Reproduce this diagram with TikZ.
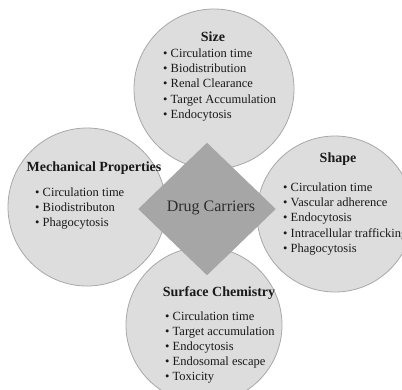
\documentclass[tikz,border=0pt]{standalone}
\usepackage{fontspec}
\setmainfont{Liberation Serif}
\usetikzlibrary{shapes.geometric}

\definecolor{bubblefill}{RGB}{221,221,221}
\definecolor{bubbleline}{RGB}{168,168,168}
\definecolor{corefill}{RGB}{166,166,166}
\definecolor{coretext}{RGB}{45,45,45}
\definecolor{listtext}{RGB}{25,25,25}

\tikzset{
  bubble/.style={circle, fill=bubblefill, draw=bubbleline, line width=0.8pt, inner sep=0pt},
  core/.style={diamond, fill=corefill, draw=corefill, inner sep=0pt,
    minimum width=137pt, minimum height=132pt},
  coretitle/.style={inner sep=0pt, text=coretext, font=\fontsize{16}{18}\selectfont},
  heading/.style={inner sep=0pt, text=listtext, font=\fontsize{14}{16}\selectfont\bfseries},
  item/.style={anchor=base west, inner sep=0pt, text=listtext, font=\fontsize{12.5}{15}\selectfont}
}

\begin{document}
\begin{tikzpicture}[x=1pt,y=-1pt]
    \useasboundingbox (0,0) rectangle (402,389);
    \clip (0,0) rectangle (402,389);

    % the four property circles
    \node[bubble, minimum size=160pt] (size) at (214,89) {};
    \node[bubble, minimum size=158pt] (mech) at (87,207) {};
    \node[bubble, minimum size=156pt] (shape) at (335,214) {};
    \node[bubble, minimum size=156pt] (surf) at (204,325) {};

    % centre
    \node[core] (carrier) at (207,209) {};
    \node[coretitle] (carrier-title) at (211,208) {Drug Carriers};

    % Size
    \node[heading] (size-title) at (213,37) {Size};
    \foreach \t [count=\i] in {Circulation time, Biodistribution, Renal Clearance,
        Target Accumulation, Endocytosis}
      \node[item] (size-\i) at (163,{57+15.4*(\i-1)}) {\textbullet\ \t};

    % Mechanical Properties
    \node[heading] (mech-title) at (94,168) {Mechanical Properties};
    \foreach \t [count=\i] in {Circulation time, Biodistributon, Phagocytosis}
      \node[item] (mech-\i) at (35,{196+15.4*(\i-1)}) {\textbullet\ \t};

    % Shape
    \node[heading] (shape-title) at (338,159) {Shape};
    \foreach \t [count=\i] in {Circulation time, Vascular adherence, Endocytosis,
        Intracellular trafficking, Phagocytosis}
      \node[item] (shape-\i) at (283,{191+15.4*(\i-1)}) {\textbullet\ \t};

    % Surface Chemistry
    \node[heading] (surf-title) at (219,293) {Surface Chemistry};
    \foreach \t [count=\i] in {Circulation time, Target accumulation, Endocytosis,
        Endosomal escape, Toxicity}
      \node[item] (surf-\i) at (165,{320+15.0*(\i-1)}) {\textbullet\ \t};
\end{tikzpicture}
\end{document}
